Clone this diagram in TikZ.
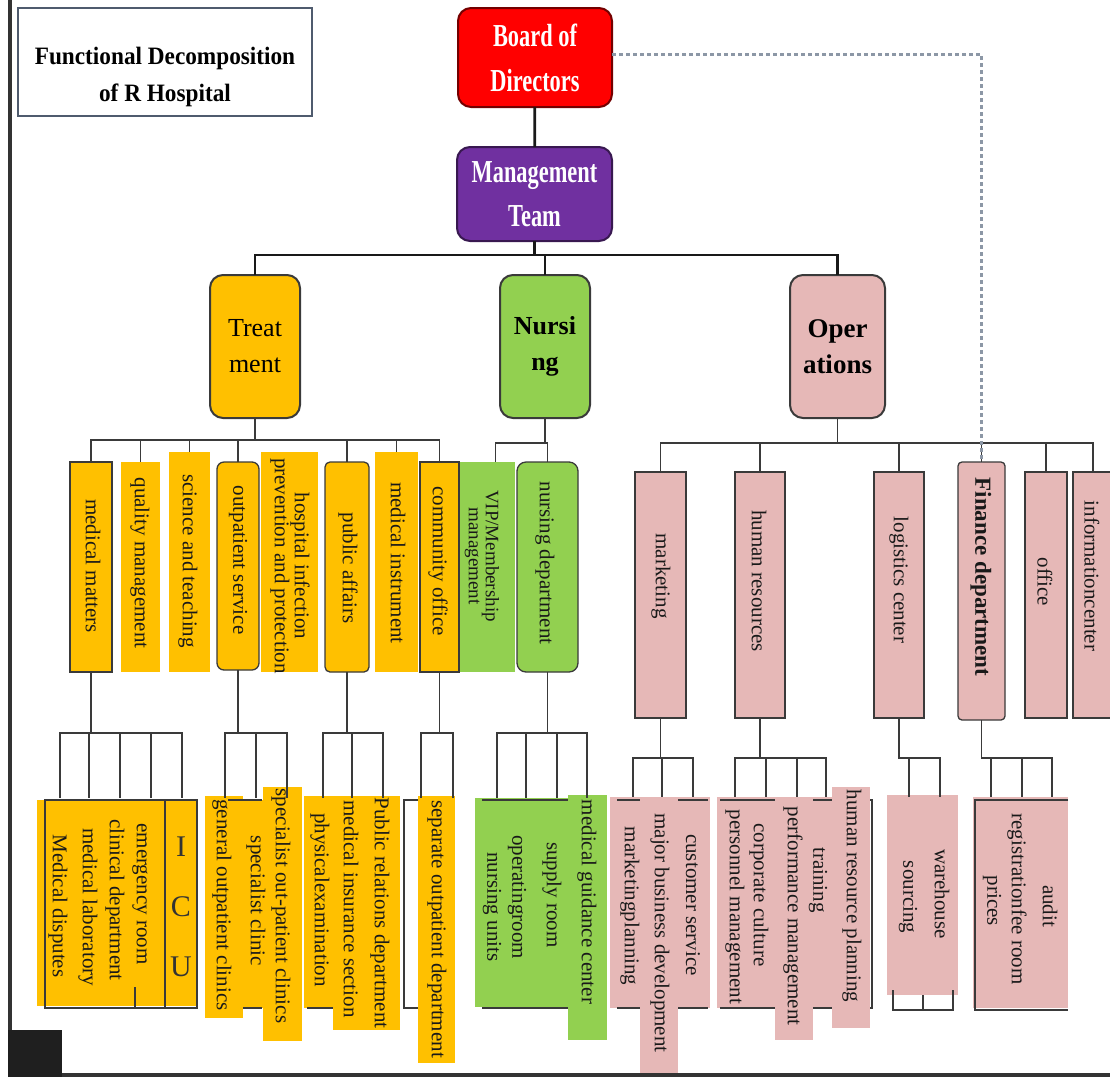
\documentclass[tikz,border=0pt]{standalone}
\usepackage{graphicx}
\usepackage{fontspec}
\setmainfont{Liberation Serif}
\usetikzlibrary{calc}

\definecolor{orgc}{HTML}{FFC000}
\definecolor{grnc}{HTML}{92D050}
\definecolor{pnkc}{HTML}{E6B8B7}
\definecolor{redc}{HTML}{FF0000}
\definecolor{purc}{HTML}{7030A0}
\definecolor{edgec}{HTML}{3A3A3A}
\definecolor{slatec}{HTML}{4F5B6E}
\definecolor{dashc}{HTML}{8C97A6}

% box node spanning (x1,y1)-(x2,y2): \rbox{name}{style}{x1}{y1}{x2}{y2}
\newcommand{\rbox}[6]{\node[#2, minimum width={(#5)-(#3)}, minimum height={(#6)-(#4)}] (#1) at ({((#3)+(#5))/2},{((#4)+(#6))/2}) {};}

\begin{document}
\begin{tikzpicture}[x=1pt,y=-1pt,
  every node/.style={inner sep=0pt,outer sep=0pt},
  box/.style={rectangle},
  ofl/.style={box,fill=orgc},
  gfl/.style={box,fill=grnc},
  pfl/.style={box,fill=pnkc},
  ed/.style={draw=edgec,line width=1.3pt},
  lvone/.style={box,draw=edgec,line width=2pt,rounded corners=13pt},
  main/.style={draw=black!90,line width=2.8pt},
  link/.style={draw=edgec,line width=1.9pt},
  vt/.style={rotate=-90,align=center,font=\fontsize{21}{16}\selectfont,text=black!90},
  dashlink/.style={draw=dashc,line width=2.2pt,dash pattern=on 4pt off 3pt}]

\useasboundingbox (0,0) rectangle (1110,1077);
\fill[white] (0,0) rectangle (1110,1077);

% ---------- title ----------
\rbox{ttl}{box,draw=slatec,line width=2.5pt,fill=white}{18}{8}{312}{116}
\node[font=\bfseries\fontsize{25}{37}\selectfont,align=center] (ttltxt) at (165,77)
  {\scalebox{0.93}[1]{Functional Decomposition}\\\scalebox{0.93}[1]{of R Hospital}};

% ---------- top levels ----------
\rbox{bod}{lvone,fill=redc,draw=black!55!red}{458}{8}{612}{107}
\node[font=\bfseries\fontsize{32}{45}\selectfont,text=white,align=center] (bodtxt) at (bod)
  {\scalebox{0.7}[1]{Board of}\\\scalebox{0.7}[1]{Directors}};
\rbox{mgt}{lvone,fill=purc,draw=black!50!purc}{457}{147}{612}{241}
\node[font=\bfseries\fontsize{32}{44}\selectfont,text=white,align=center] (mgttxt) at (mgt)
  {\scalebox{0.7}[1]{Management}\\\scalebox{0.7}[1]{Team}};

\rbox{trt}{lvone,fill=orgc}{210}{275}{300}{418}
\node[font=\fontsize{26}{36}\selectfont,align=center] (trttxt) at (trt) {Treat\\ment};
\rbox{nur}{lvone,fill=grnc}{500}{275}{590}{418}
\node[font=\bfseries\fontsize{26}{36}\selectfont,align=center] (nurtxt) at (nur) {Nursi\\ng};
\rbox{ops}{lvone,fill=pnkc}{790}{275}{885}{418}
\node[font=\bfseries\fontsize{27}{36}\selectfont,align=center] (opstxt) at (ops) {Oper\\ations};

\draw[main] (bod) -- (mgt);
\draw[main] (mgt.south) -- ++(0,14) -| (trt.north);
\draw[main] (mgt.south) -- ++(0,14) -| (nur.north);
\draw[main] (mgt.south) -- ++(0,14) -| (ops.north);

% ---------- treatment departments ----------
\rbox{mm}{ofl,ed}{70}{462}{112}{672}
\rbox{qm}{ofl}{121}{462}{160}{672}
\rbox{st}{ofl}{169}{452}{210}{672}
\rbox{os}{ofl,ed,rounded corners=7pt}{217}{462}{259}{670}
\rbox{hi}{ofl}{261}{452}{318}{672}
\rbox{pa}{ofl,ed,rounded corners=5pt}{325}{462}{369}{672}
\rbox{mi}{ofl}{375}{452}{418}{672}
\rbox{co}{ofl,ed}{420}{462}{459}{672}
\node[vt] (mmtxt) at (93,566) {medical matters};
\node[vt] (qmtxt) at (140,563) {quality management};
\node[vt] (sttxt) at (188,561) {science and teaching};
\node[vt] (ostxt) at (238,560) {outpatient service};
\node[vt] (hitxt) at (290,566) {hospital infection\\prevention and protection};
\node[vt] (patxt) at (348,568) {public affairs};
\node[vt] (mitxt) at (398,563) {medical instrument};
\node[vt] (cotxt) at (438,561) {community office};
\foreach \c in {mm,qm,st,os,pa,mi,co}
  \draw[link] (trt.south) -- ++(0,22) -| (\c.north);

% ---------- nursing departments ----------
\rbox{vip}{gfl}{460}{462}{515}{672}
\rbox{nd}{gfl,ed,rounded corners=9pt}{517}{462}{578}{672}
\node[vt,font=\fontsize{19}{17}\selectfont] (viptxt) at (482,556) {VIP/Membership\\management};
\node[vt] (ndtxt) at (545,563) {nursing department};
\draw[link] (nur.south) -- ++(0,25) -| ($(vip.north)+(8,0)$);
\draw[link] (nur.south) -- ++(0,25) -| (nd.north);

% ---------- operations departments ----------
\rbox{mk}{pfl,ed}{635}{472}{686}{718}
\rbox{hr}{pfl,ed}{735}{472}{785}{718}
\rbox{lc}{pfl,ed}{874}{472}{924}{718}
\rbox{fd}{pfl,ed,rounded corners=4pt}{958}{462}{1005}{720}
\rbox{off}{pfl,ed}{1025}{472}{1067}{718}
\rbox{ic}{pfl,ed}{1073}{472}{1113}{718}
\node[vt] (mktxt) at (661,576) {marketing};
\node[vt] (hrtxt) at (759,581) {human resources};
\node[vt] (lctxt) at (899,580) {logistics center};
\node[vt,font=\bfseries\fontsize{23}{26}\selectfont] (fdtxt) at (981,577) {Finance department};
\node[vt] (offtxt) at (1045,582) {office};
\node[vt] (ictxt) at (1092,576) {informationcenter};
\foreach \c in {mk,hr,lc,fd,off,ic}
  \draw[link] (ops.south) -- ++(0,25) -| (\c.north);

\draw[dashlink] ($(bod.east)+(0,-3)$) -| (fd.north);

% ---------- third level: treatment ----------
\fill[orgc] (37,800) rectangle (197,1006);
\draw[ed] (45,800) rectangle (197,1008);
\draw[ed] (165,800) -- (165,1008);
\draw[ed] (135,987) -- (135,1008);
\node[vt] (md) at (58,906) {Medical disputes};
\node[vt] (ml) at (88,907) {medical laboratory};
\node[vt] (cd) at (115,900) {clinical department};
\node[vt] (er) at (140,894) {emergency room};
\node[font=\fontsize{30}{60}\selectfont,align=center,text=black!80] (icu) at (181,907) {I\\C\\U};

\fill[orgc] (205,796) rectangle (243,1018);
\fill[orgc] (243,800) rectangle (263,1008);
\fill[orgc] (263,787) rectangle (302,1041);
\draw[ed] (228,800) -- (262,800);
\draw[ed] (243,1008) -- (262,1008);
\node[vt] (goc) at (222,905) {general outpatient clinics};
\node[vt] (spc) at (256,901) {specialist clinic};
\node[vt] (soc) at (281,906) {specialist out-patient clinics};

\fill[orgc] (304,796) rectangle (333,1008);
\fill[orgc] (333,796) rectangle (400,1030);
\draw[ed] (307,1008) -- (333,1008);
\node[vt] (pe) at (320,900) {physicalexamination};
\node[vt] (mis) at (351,909) {medical insurance section};
\node[vt] (prd) at (380,913) {Public relations department};

\fill[orgc] (418,796) rectangle (455,1063);
\draw[ed] (418,800) -- (404,800) -- (404,1008) -- (418,1008);
\node[vt] (sod) at (437,929) {separate outpatient department};

% ---------- third level: nursing ----------
\fill[grnc] (475,798) rectangle (568,1007);
\draw[ed] (482,800) -- (568,800);
\draw[ed] (482,1008) -- (568,1008);
\fill[grnc] (568,795) rectangle (607,1040);
\node[vt] (nu) at (492,907) {nursing units};
\node[vt] (opr) at (517,897) {operatingroom};
\node[vt] (sr) at (552,895) {supply room};
\node[vt] (mgc) at (587,902) {medical guidance center};

% ---------- third level: operations ----------
\fill[pnkc] (610,797) rectangle (710,1008);
\draw[ed] (617,800) -- (708,800);
\draw[ed] (617,1008) -- (708,1008);
\fill[pnkc] (640,797) rectangle (678,1077);
\node[vt] (mp) at (630,906) {marketingplanning};
\node[vt] (mbd) at (660,933) {major business development};
\node[vt] (cs) at (693,905) {customer service};

\fill[pnkc] (717,797) rectangle (832,1008);
\draw[ed] (720,800) -- (872,800) -- (872,1008) -- (720,1008);
\fill[pnkc] (775,797) rectangle (813,1040);
\fill[pnkc] (832,787) rectangle (870,1028);
\node[vt] (pm) at (735,907) {personnel management};
\node[vt] (cc) at (759,895) {corporate culture};
\node[vt] (pfm) at (793,916) {performance management};
\node[vt] (tr) at (818,880) {training};
\node[vt] (hrp) at (852,896) {human resource planning};

\fill[pnkc] (887,795) rectangle (958,995);
\draw[ed] (893,990) -- (893,1010) -- (953,1010) -- (953,990);
\draw[ed] (923,995) -- (923,1010);
\node[vt] (wh) at (942,894) {warehouse};
\node[vt] (so) at (908,897) {sourcing};

\fill[pnkc] (973,797) rectangle (1068,1008);
\draw[ed] (1068,800) -- (975,800) -- (975,1010) -- (1068,1010);
\node[vt] (rfr) at (1017,899) {registrationfee room};
\node[vt] (pr) at (992,901) {prices};
\node[vt] (au) at (1050,906) {audit};

% ---------- third level connectors ----------
\foreach \n/\x in {mA/60,mB/89,mC/120,mD/151,mE/182,oA/225,oB/256,oC/287,
                   pA/323,pB/352,pC/383,cA/421,cB/453,
                   nA/497,nB/526,nC/557,nD/587}
  \coordinate (\n) at (\x,798);
\foreach \n/\x in {kA/633,kB/662,kC/693,hA/735,hB/766,hC/797,hD/826,
                   lA/909,lB/940,fA/991,fB/1022,fC/1052}
  \coordinate (\n) at (\x,797);

\foreach \n in {mA,mB,mC,mD,mE} \draw[link] (mm.south) -- ++(0,61) -| (\n);
\foreach \n in {oA,oB,oC} \draw[link] (os.south) -- ++(0,63) -| (\n);
\foreach \n in {pA,pB,pC} \draw[link] (pa.south) -- ++(0,61) -| (\n);
\foreach \n in {cA,cB} \draw[link] (co.south) -- ++(0,61) -| (\n);
\foreach \n in {nA,nB,nC,nD} \draw[link] (nd.south) -- ++(0,61) -| (\n);
\foreach \n in {kA,kB,kC} \draw[link] (mk.south) -- ++(0,40) -| (\n);
\foreach \n in {hA,hB,hC,hD} \draw[link] (hr.south) -- ++(0,40) -| (\n);
\foreach \n in {lA,lB} \draw[link] (lc.south) -- ++(0,40) -| (\n);
\foreach \n in {fA,fB,fC} \draw[link] (fd.south) -- ++(0,38) -| (\n);

% ---------- page frame ----------
\fill[black!80] (8,0) rectangle (12,1032);
\fill[black!88] (8,1030) rectangle (62,1077);
\fill[black!80] (62,1073) rectangle (1110,1077);
\end{tikzpicture}
\end{document}
